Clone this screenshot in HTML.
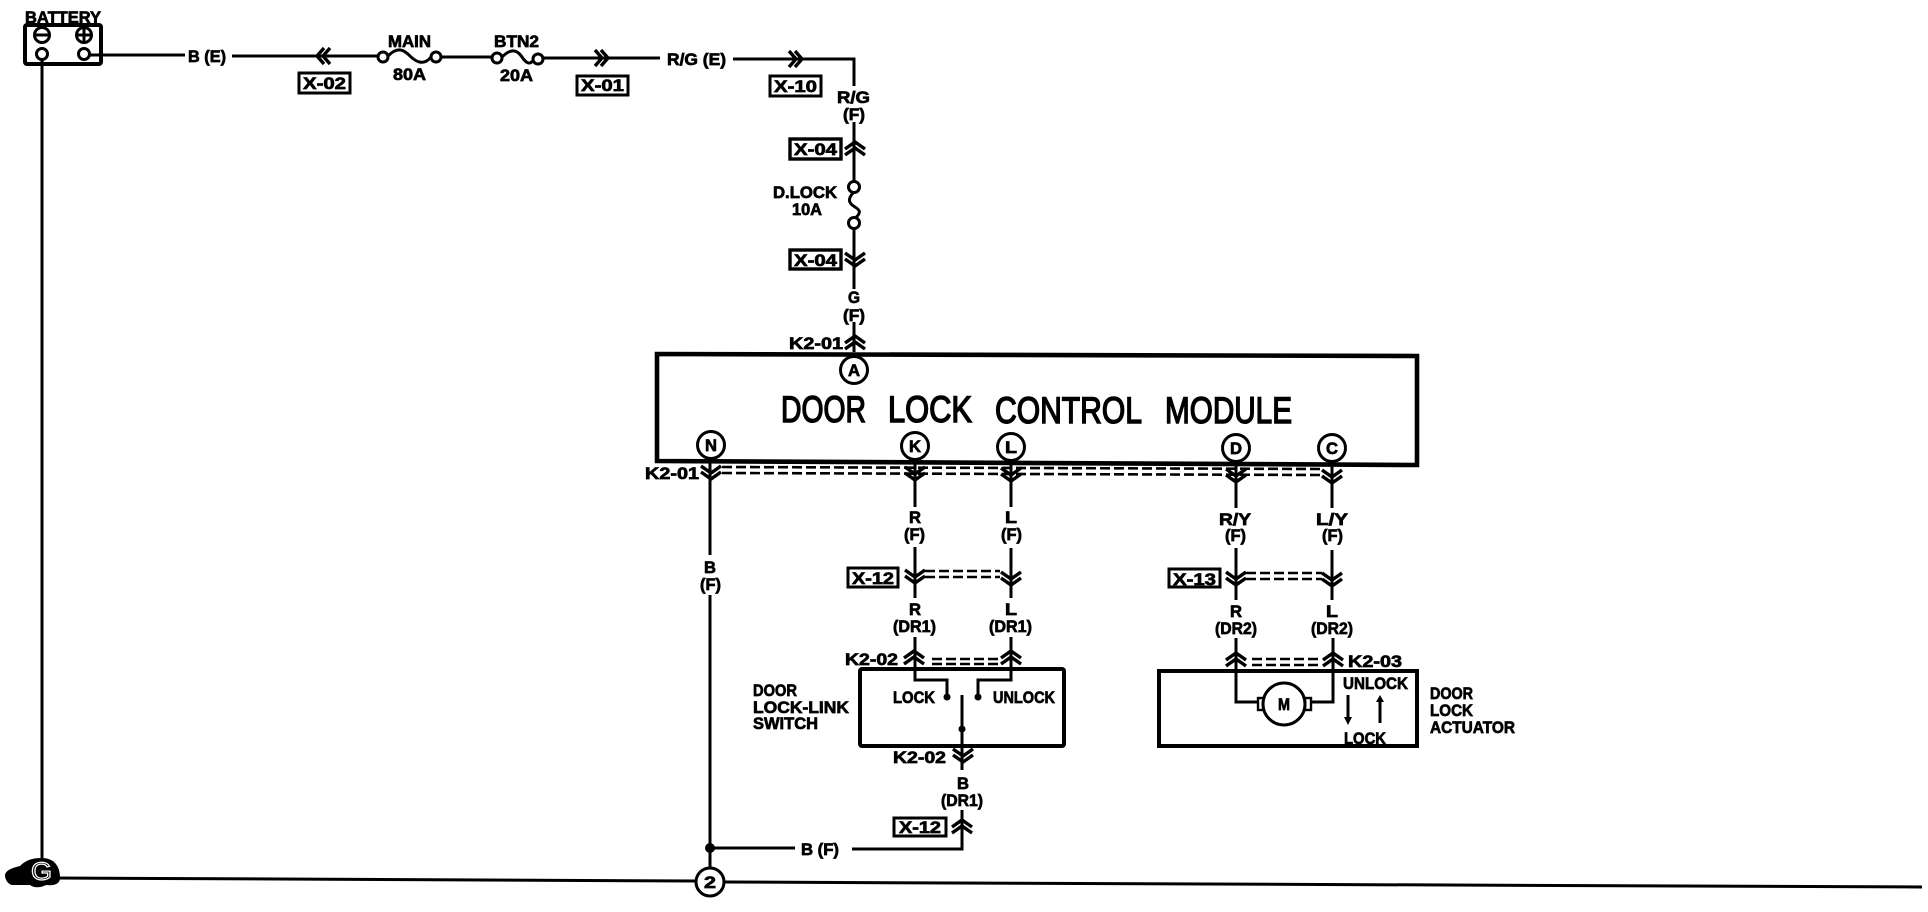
<!DOCTYPE html>
<html>
<head>
<meta charset="utf-8">
<style>
html,body{margin:0;padding:0;background:#fff;}
svg{display:block;}
text{font-family:"Liberation Sans",sans-serif;font-weight:bold;font-size:16.5px;fill:#000;stroke:#000;stroke-width:.7;}
.w{fill:none;stroke:#000;stroke-width:3;}
.b{fill:none;stroke:#000;stroke-width:4;}
.c{fill:#fff;stroke:#000;stroke-width:3;}
.d{fill:none;stroke:#000;stroke-width:2.6;stroke-dasharray:10 4;}
.ch{fill:none;stroke:#000;stroke-width:3.4;}
.big{font-size:37px;font-weight:normal;stroke-width:1.5;}
</style>
</head>
<body>
<svg width="1928" height="912" viewBox="0 0 1928 912" xmlns="http://www.w3.org/2000/svg">
<defs>
<path id="cd" class="ch" d="M-10 -5 L0 2 L10 -5 M-10 1 L0 8 L10 1"/>
<path id="cu" class="ch" d="M-10 5 L0 -2 L10 5 M-10 -1 L0 -8 L10 -1"/>
<path id="cr" class="ch" d="M-6 -8 L1 0 L-6 8 M0 -8 L7 0 L0 8"/>
<path id="cl" class="ch" d="M6 -8 L-1 0 L6 8 M0 -8 L-7 0 L0 8"/>
</defs>

<!-- Battery -->
<text x="25" y="23" textLength="76" lengthAdjust="spacingAndGlyphs">BATTERY</text>
<rect x="25" y="25" width="76" height="39" rx="2" class="b"/>
<circle cx="42" cy="35" r="7.5" class="c"/><path d="M36 35H48" class="w"/>
<circle cx="84" cy="35" r="7.5" class="c"/><path d="M78 35H90M84 29V41" class="w"/>
<path d="M42 60V858" class="w"/>
<path d="M84 55H185M232 56H378M441 57H492M543 58H660M733 59H854V86" class="w"/>
<circle cx="42" cy="54" r="5.5" class="c"/>
<circle cx="84" cy="54" r="5.5" class="c"/>

<text x="188" y="62" textLength="38" lengthAdjust="spacingAndGlyphs">B (E)</text>
<use href="#cl" x="324" y="56"/>
<rect x="299" y="73" width="51" height="20" class="b" style="stroke-width:3"/>
<text x="303" y="89" textLength="43" lengthAdjust="spacingAndGlyphs">X-02</text>

<!-- MAIN fuse -->
<text x="388" y="47" textLength="43" lengthAdjust="spacingAndGlyphs">MAIN</text>
<path d="M388 56C398 46 404 50 410 56S424 66 431 57" class="w"/>
<circle cx="383" cy="57" r="5" class="c"/>
<circle cx="436" cy="57" r="5" class="c"/>
<text x="393" y="80" textLength="33" lengthAdjust="spacingAndGlyphs">80A</text>

<!-- BTN2 fuse -->
<text x="494" y="47" textLength="45" lengthAdjust="spacingAndGlyphs">BTN2</text>
<path d="M502 57C512 47 518 51 522 57S530 66 534 59" class="w"/>
<circle cx="497" cy="58" r="5" class="c"/>
<circle cx="538" cy="59" r="5" class="c"/>
<text x="500" y="81" textLength="33" lengthAdjust="spacingAndGlyphs">20A</text>
<use href="#cr" x="601" y="58"/>
<rect x="577" y="76" width="51" height="19" class="b" style="stroke-width:3"/>
<text x="581" y="91" textLength="43" lengthAdjust="spacingAndGlyphs">X-01</text>

<text x="667" y="65" textLength="59" lengthAdjust="spacingAndGlyphs">R/G (E)</text>
<use href="#cr" x="795" y="59"/>
<rect x="770" y="76" width="51" height="20" class="b" style="stroke-width:3"/>
<text x="774" y="92" textLength="43" lengthAdjust="spacingAndGlyphs">X-10</text>

<!-- Right vertical feed -->
<text x="837" y="103" textLength="33" lengthAdjust="spacingAndGlyphs">R/G</text>
<text x="843" y="120" textLength="22" lengthAdjust="spacingAndGlyphs">(F)</text>
<path d="M854 122V181M854 229V289M854 322V352" class="w"/>
<rect x="790" y="139" width="51" height="20" class="b" style="stroke-width:3.4"/>
<text x="794" y="155" textLength="43" lengthAdjust="spacingAndGlyphs">X-04</text>
<use href="#cu" x="855" y="150"/>
<text x="773" y="198" textLength="64" lengthAdjust="spacingAndGlyphs">D.LOCK</text>
<text x="792" y="215" textLength="30" lengthAdjust="spacingAndGlyphs">10A</text>
<path d="M854 192C846 200 850 204 855 207S862 213 854 219" class="w"/>
<circle cx="854" cy="187" r="5.5" class="c"/>
<circle cx="854" cy="223" r="5.5" class="c"/>
<rect x="790" y="250" width="51" height="19" class="b" style="stroke-width:3.4"/>
<text x="794" y="266" textLength="43" lengthAdjust="spacingAndGlyphs">X-04</text>
<use href="#cd" x="855" y="258"/>
<text x="848" y="303" textLength="12" lengthAdjust="spacingAndGlyphs">G</text>
<text x="843" y="321" textLength="22" lengthAdjust="spacingAndGlyphs">(F)</text>
<text x="789" y="349" textLength="54" lengthAdjust="spacingAndGlyphs">K2-01</text>
<use href="#cu" x="855" y="344"/>

<!-- Module -->
<path d="M657 354L1417 356V465L657 461Z" fill="#fff" stroke="#000" stroke-width="4.6"/>
<text class="big" x="781" y="422" textLength="85" lengthAdjust="spacingAndGlyphs">DOOR</text>
<text class="big" x="888" y="422" textLength="84" lengthAdjust="spacingAndGlyphs">LOCK</text>
<text class="big" x="995" y="423" textLength="147" lengthAdjust="spacingAndGlyphs">CONTROL</text>
<text class="big" x="1165" y="423" textLength="127" lengthAdjust="spacingAndGlyphs">MODULE</text>
<circle cx="854" cy="370" r="13.5" class="c"/><text x="848" y="376" textLength="12" lengthAdjust="spacingAndGlyphs">A</text>
<circle cx="711" cy="445" r="13.5" class="c"/><text x="705" y="451" textLength="12" lengthAdjust="spacingAndGlyphs">N</text>
<circle cx="915" cy="446" r="13.5" class="c"/><text x="909" y="452" textLength="12" lengthAdjust="spacingAndGlyphs">K</text>
<circle cx="1011" cy="447" r="13.5" class="c"/><text x="1005" y="453" textLength="12" lengthAdjust="spacingAndGlyphs">L</text>
<circle cx="1236" cy="448" r="13.5" class="c"/><text x="1230" y="454" textLength="12" lengthAdjust="spacingAndGlyphs">D</text>
<circle cx="1332" cy="448" r="13.5" class="c"/><text x="1326" y="454" textLength="12" lengthAdjust="spacingAndGlyphs">C</text>

<!-- Connector shared dashes -->
<path d="M722 467L1322 469M722 473L1322 475" class="d"/>
<text x="645" y="479" textLength="54" lengthAdjust="spacingAndGlyphs">K2-01</text>
<use href="#cd" x="711" y="471"/>
<use href="#cd" x="915" y="472"/>
<use href="#cd" x="1011" y="473"/>
<use href="#cd" x="1236" y="474"/>
<use href="#cd" x="1332" y="475"/>

<!-- N wire -->
<path d="M710 462V555M710 595V869" class="w"/>
<text x="704" y="573" textLength="12" lengthAdjust="spacingAndGlyphs">B</text>
<text x="700" y="590" textLength="21" lengthAdjust="spacingAndGlyphs">(F)</text>
<circle cx="710" cy="848" r="5" fill="#000"/>
<path d="M710 848H795M852 849H962V810" class="w"/>
<text x="801" y="855" textLength="38" lengthAdjust="spacingAndGlyphs">B (F)</text>
<circle cx="710" cy="882" r="14" class="c"/>
<text x="704" y="888" textLength="12" lengthAdjust="spacingAndGlyphs">2</text>

<!-- K / L wires -->
<path d="M915 462V507M915 547V598M915 637V680H947V697" class="w"/>
<path d="M1011 462V507M1011 548V598M1011 637V680H978V697" class="w"/>
<text x="909" y="523" textLength="12" lengthAdjust="spacingAndGlyphs">R</text>
<text x="904" y="540" textLength="21" lengthAdjust="spacingAndGlyphs">(F)</text>
<text x="1005" y="523" textLength="12" lengthAdjust="spacingAndGlyphs">L</text>
<text x="1001" y="540" textLength="21" lengthAdjust="spacingAndGlyphs">(F)</text>
<rect x="848" y="568" width="50" height="19" class="b" style="stroke-width:3"/>
<text x="852" y="584" textLength="42" lengthAdjust="spacingAndGlyphs">X-12</text>
<use href="#cd" x="915" y="575"/>
<use href="#cd" x="1011" y="577"/>
<path d="M925 571H1000M925 577H1000" class="d"/>
<text x="909" y="615" textLength="12" lengthAdjust="spacingAndGlyphs">R</text>
<text x="893" y="632" textLength="43" lengthAdjust="spacingAndGlyphs">(DR1)</text>
<text x="1005" y="615" textLength="12" lengthAdjust="spacingAndGlyphs">L</text>
<text x="989" y="632" textLength="43" lengthAdjust="spacingAndGlyphs">(DR1)</text>

<!-- Switch -->
<text x="845" y="665" textLength="53" lengthAdjust="spacingAndGlyphs">K2-02</text>
<use href="#cu" x="914" y="659"/>
<use href="#cu" x="1011" y="659"/>
<path d="M932 659H998M932 664H998" class="d"/>
<rect x="860" y="669" width="204" height="77" rx="2" class="b"/>
<text x="893" y="703" textLength="42" lengthAdjust="spacingAndGlyphs">LOCK</text>
<text x="993" y="703" textLength="62" lengthAdjust="spacingAndGlyphs">UNLOCK</text>
<circle cx="947" cy="697" r="3.5" fill="#000"/>
<circle cx="978" cy="697" r="3.5" fill="#000"/>
<circle cx="962" cy="729" r="3.5" fill="#000"/>
<path d="M962 695V770" class="w"/>
<text x="753" y="696" textLength="44" lengthAdjust="spacingAndGlyphs">DOOR</text>
<text x="753" y="713" textLength="96" lengthAdjust="spacingAndGlyphs">LOCK-LINK</text>
<text x="753" y="729" textLength="65" lengthAdjust="spacingAndGlyphs">SWITCH</text>
<text x="893" y="763" textLength="53" lengthAdjust="spacingAndGlyphs">K2-02</text>
<use href="#cd" x="963" y="754"/>
<text x="957" y="789" textLength="12" lengthAdjust="spacingAndGlyphs">B</text>
<text x="941" y="806" textLength="42" lengthAdjust="spacingAndGlyphs">(DR1)</text>
<rect x="894" y="818" width="52" height="18" class="b" style="stroke-width:3"/>
<text x="899" y="833" textLength="42" lengthAdjust="spacingAndGlyphs">X-12</text>
<use href="#cu" x="962" y="828"/>

<!-- D / C wires -->
<path d="M1236 462V508M1236 548V600M1236 638V702H1257" class="w"/>
<path d="M1332 462V508M1332 550V600M1333 638V702H1311" class="w"/>
<text x="1219" y="525" textLength="32" lengthAdjust="spacingAndGlyphs">R/Y</text>
<text x="1225" y="541" textLength="21" lengthAdjust="spacingAndGlyphs">(F)</text>
<text x="1316" y="525" textLength="32" lengthAdjust="spacingAndGlyphs">L/Y</text>
<text x="1322" y="541" textLength="21" lengthAdjust="spacingAndGlyphs">(F)</text>
<rect x="1169" y="569" width="51" height="18" class="b" style="stroke-width:3"/>
<text x="1173" y="585" textLength="43" lengthAdjust="spacingAndGlyphs">X-13</text>
<use href="#cd" x="1236" y="577"/>
<use href="#cd" x="1332" y="578"/>
<path d="M1246 573H1322M1246 579H1322" class="d"/>
<text x="1230" y="617" textLength="12" lengthAdjust="spacingAndGlyphs">R</text>
<text x="1215" y="634" textLength="42" lengthAdjust="spacingAndGlyphs">(DR2)</text>
<text x="1326" y="617" textLength="12" lengthAdjust="spacingAndGlyphs">L</text>
<text x="1311" y="634" textLength="42" lengthAdjust="spacingAndGlyphs">(DR2)</text>

<!-- Actuator -->
<use href="#cu" x="1236" y="661"/>
<use href="#cu" x="1333" y="661"/>
<path d="M1252 659H1318M1252 665H1318" class="d"/>
<text x="1348" y="667" textLength="54" lengthAdjust="spacingAndGlyphs">K2-03</text>
<path d="M1159 671H1417V746H1159Z" class="b"/>
<rect x="1258" y="698" width="6" height="12" class="c" style="stroke-width:2.4"/>
<rect x="1305" y="698" width="6" height="12" class="c" style="stroke-width:2.4"/>
<circle cx="1284" cy="704" r="21" class="c"/>
<text x="1278" y="710" textLength="12" lengthAdjust="spacingAndGlyphs">M</text>
<text x="1343" y="689" textLength="65" lengthAdjust="spacingAndGlyphs">UNLOCK</text>
<text x="1344" y="744" textLength="42" lengthAdjust="spacingAndGlyphs">LOCK</text>
<path d="M1348 695V718M1380 701V723" class="w"/>
<path d="M1344 717H1352L1348 725Z M1376 702H1384L1380 695Z" fill="#000"/>
<text x="1430" y="699" textLength="43" lengthAdjust="spacingAndGlyphs">DOOR</text>
<text x="1430" y="716" textLength="43" lengthAdjust="spacingAndGlyphs">LOCK</text>
<text x="1430" y="733" textLength="85" lengthAdjust="spacingAndGlyphs">ACTUATOR</text>

<!-- Ground -->
<path d="M55 878L696 881M724 882L1922 887" class="w"/>
<path d="M5 875C6 870 12 868 20 866C26 860 32 858 42 858C54 858 60 866 60 878C60 884 54 886 46 885C40 888 34 888 30 885H12C8 884 5 880 5 875Z" fill="#000"/>
<text x="31" y="880" textLength="21" lengthAdjust="spacingAndGlyphs" style="font-size:25px;font-weight:normal;fill:#000;stroke:#fff;stroke-width:1.2">G</text>
</svg>
</body>
</html>
